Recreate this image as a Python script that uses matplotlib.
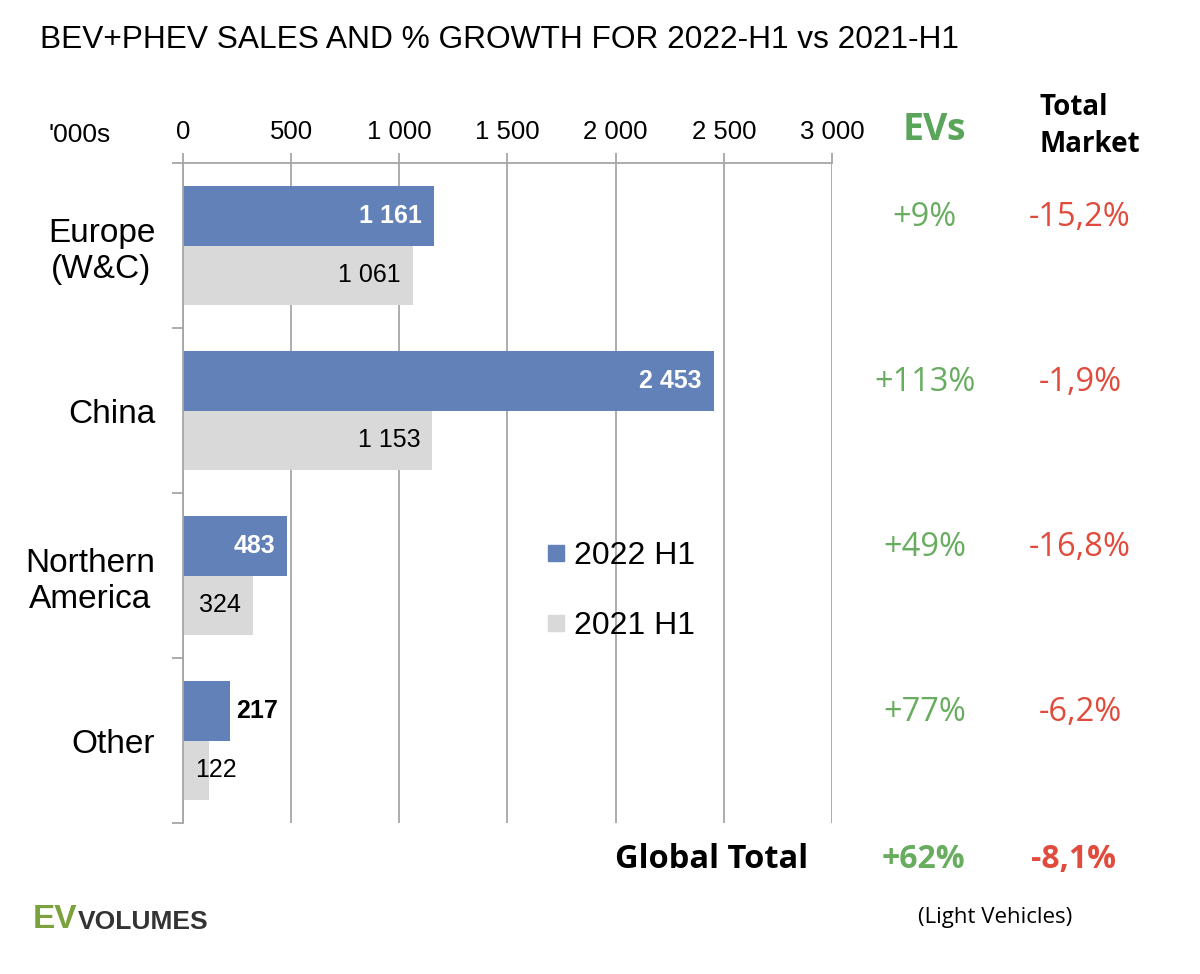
import matplotlib
matplotlib.use('Agg')
import matplotlib.pyplot as plt
from matplotlib import rcParams, font_manager
from matplotlib.lines import Line2D
import numpy as np

rcParams['font.family'] = ['Liberation Sans', 'DejaVu Sans']

regions = ['Europe\n(W&C)', 'China', 'Northern\nAmerica', 'Other']
sales_2022 = [1161, 2453, 483, 217]
sales_2021 = [1061, 1153, 324, 122]
ev_growth = ['+9%', '+113%', '+49%', '+77%']
market_growth = ['-15,2%', '-1,9%', '-16,8%', '-6,2%']
global_ev = '+62%'
global_market = '-8,1%'
xticks = [0, 500, 1000, 1500, 2000, 2500, 3000]

BLUE = '#6281B8'
GREY = '#D9D9D9'
GREEN = '#68AD5F'
RED = '#E04B3C'
LINE = '#A6A6A6'

names = {f.name for f in font_manager.fontManager.ttflist}
narrow = 'Liberation Sans Narrow' if 'Liberation Sans Narrow' in names else 'Liberation Sans'

fig = plt.figure(figsize=(12, 9.74), dpi=100)
ax = fig.add_axes([0.1525, 0.155, 0.5408, 0.6776])

y = np.arange(len(regions))
h = 0.36
ax.barh(y - h / 2, sales_2022, height=h, color=BLUE, label='2022 H1')
ax.barh(y + h / 2, sales_2021, height=h, color=GREY, label='2021 H1')

def fmt(v):
    return '{:,}'.format(int(v)).replace(',', ' ')

# labels on the 2022 bars
for yi, v in zip(y, sales_2022):
    if v > 300:
        ax.annotate(fmt(v), (v, yi - h / 2), xytext=(-12, 0), textcoords='offset pixels',
                    ha='right', va='center', color='white', fontsize=18, fontweight='bold')
    else:
        ax.annotate(fmt(v), (v, yi - h / 2), xytext=(6, 0), textcoords='offset pixels',
                    ha='left', va='center', color='black', fontsize=18, fontweight='bold')
# labels on the 2021 bars (too short ones start near the axis)
for yi, v in zip(y, sales_2021):
    if v > 200:
        ax.annotate(fmt(v), (v, yi + h / 2), xytext=(-12, 0), textcoords='offset pixels',
                    ha='right', va='center', color='black', fontsize=18)
    else:
        ax.annotate(fmt(v), (0, yi + h / 2), xytext=(12, 0), textcoords='offset pixels',
                    ha='left', va='center', color='black', fontsize=18)

ax.set_xlim(0, 3000)
ax.set_ylim(len(regions) - 0.5, -0.5)
ax.xaxis.tick_top()
ax.set_xticks(xticks)
ax.set_xticklabels([fmt(t) for t in xticks], fontsize=18.5)
ax.tick_params(axis='x', length=7, color=LINE, width=1.3, pad=7)
ax.grid(axis='x', color=LINE, linewidth=1.3)
ax.set_axisbelow(True)

ax.set_yticks(np.arange(len(regions) + 1) - 0.5)
ax.set_yticklabels([])
ax.tick_params(axis='y', which='major', length=8, color=LINE, width=1.3)
ax.set_yticks(y, minor=True)
ax.set_yticklabels(regions, minor=True, fontsize=24)
ax.tick_params(axis='y', which='minor', length=0, pad=20)
for lab in ax.get_yticklabels(minor=True):
    lab.set_multialignment('center')

for s in ['right', 'bottom']:
    ax.spines[s].set_visible(False)
for s in ['top', 'left']:
    ax.spines[s].set_color(LINE)
    ax.spines[s].set_linewidth(1.3)

# legend
handles = [Line2D([], [], marker='s', ls='', color=BLUE, markersize=11),
           Line2D([], [], marker='s', ls='', color=GREY, markersize=11)]
fig.legend(handles, ['2022 H1', '2021 H1'], loc='center left',
           bbox_to_anchor=(0.4435, 0.3935), frameon=False, fontsize=23,
           handlelength=0.5, handletextpad=0.3, labelspacing=1.25, borderpad=0)

# texts
fig.text(40 / 1200, 1 - 40 / 974, 'BEV+PHEV SALES AND % GROWTH FOR 2022-H1 vs 2021-H1',
         fontsize=22.8, ha='left', va='center')
fig.text(48 / 1200, 1 - 135 / 974, "'000s", fontsize=19, ha='left', va='center')
fig.text(934 / 1200, 1 - 130 / 974, 'EVs', fontsize=27, fontweight='bold', color='#5BA55B',
         family='Open Sans', ha='center', va='center')
fig.text(1040 / 1200, 1 - 126 / 974, 'Total\nMarket', fontsize=20, fontweight='bold',
         family='Open Sans', ha='left', va='center', linespacing=1.4)

for yi, g, m in zip(y, ev_growth, market_growth):
    ax.annotate(g, (925 / 1200, yi - 0.17), xycoords=('figure fraction', 'data'),
                ha='center', va='center', fontsize=23.5, color=GREEN, family='Open Sans',
                annotation_clip=False)
    ax.annotate(m, (1080 / 1200, yi - 0.17), xycoords=('figure fraction', 'data'),
                ha='center', va='center', fontsize=23.5, color=RED, family='Open Sans',
                annotation_clip=False)

gy = 1 - 859 / 974
fig.text(808 / 1200, gy, 'Global Total', fontsize=23.5, fontweight='bold', family='Open Sans',
         ha='right', va='center')
fig.text(923 / 1200, gy, global_ev, fontsize=23, fontweight='bold', family='Open Sans',
         color=GREEN, ha='center', va='center')
fig.text(1074 / 1200, gy, global_market, fontsize=23, fontweight='bold', family='Open Sans',
         color=RED, ha='center', va='center')

fig.text(995 / 1200, 1 - 918 / 974, '(Light Vehicles)', fontsize=16, family='Open Sans',
         ha='center', va='center')
fig.text(33 / 1200, 1 - 919 / 974, 'EV', fontsize=24, fontweight='bold', color='#7BA23F',
         family=narrow, ha='left', va='center')
fig.text(78 / 1200, 1 - 922 / 974, 'VOLUMES', fontsize=19, fontweight='bold', color='#333333',
         family=narrow, ha='left', va='center')

fig.savefig('out.png', dpi=100, facecolor='white')
